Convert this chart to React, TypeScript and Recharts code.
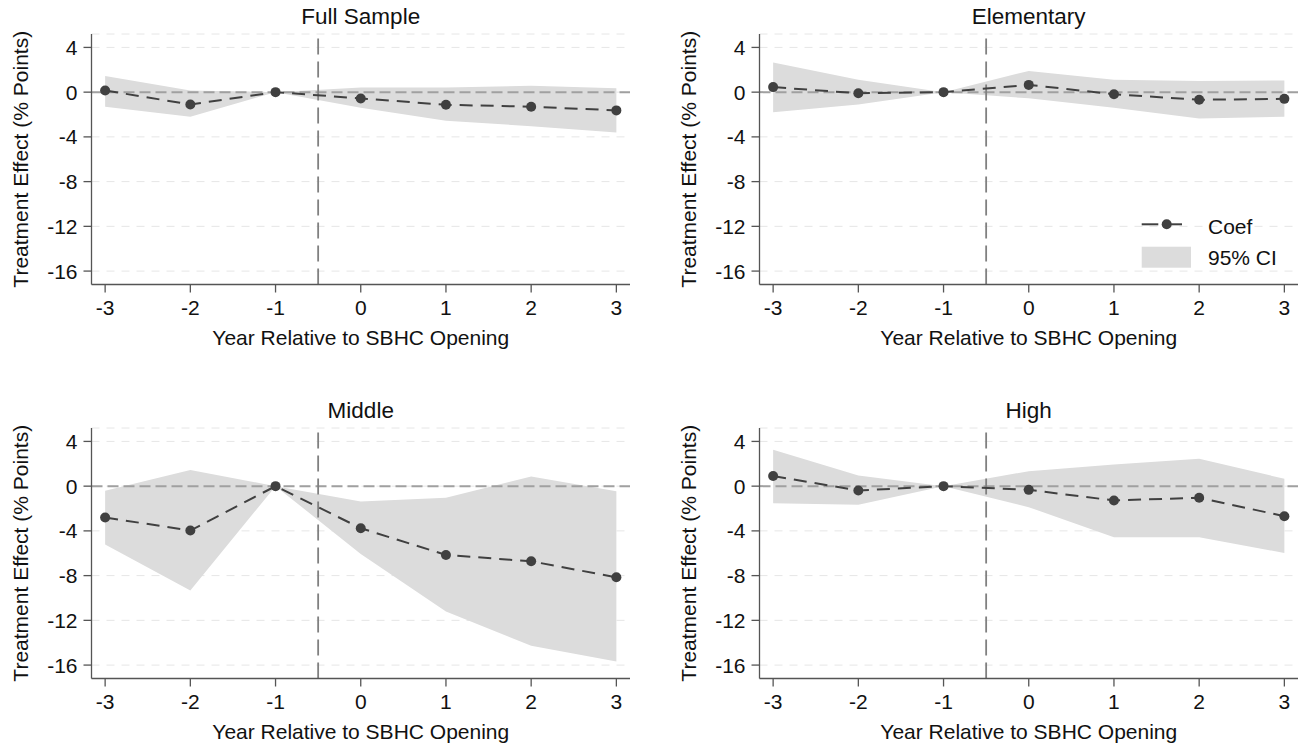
import React from "react";
import {
  ComposedChart,
  Area,
  Line,
  XAxis,
  YAxis,
  CartesianGrid,
  ReferenceLine,
  Legend,
} from "recharts";

const years = [-3, -2, -1, 0, 1, 2, 3];
const yTicks = [4, 0, -4, -8, -12, -16];

const fullCoef = [0.15, -1.1, 0, -0.56, -1.13, -1.3, -1.63];
const fullLo = [-1.3, -2.2, 0, -1.4, -2.55, -3.05, -3.6];
const fullHi = [1.45, 0.15, 0, 0.42, 0.42, 0.57, 0.36];

const elemCoef = [0.45, -0.1, 0, 0.65, -0.18, -0.68, -0.6];
const elemLo = [-1.8, -1.1, 0, -0.55, -1.4, -2.35, -2.2];
const elemHi = [2.65, 1.1, 0, 1.9, 1.1, 1.0, 1.05];

const midCoef = [-2.8, -3.97, 0, -3.76, -6.15, -6.72, -8.15];
const midLo = [-5.22, -9.34, 0, -6.06, -11.2, -14.27, -15.67];
const midHi = [-0.4, 1.45, 0, -1.37, -1.04, 0.87, -0.45];

const highCoef = [0.9, -0.39, 0, -0.33, -1.28, -1.04, -2.69];
const highLo = [-1.52, -1.67, 0, -1.88, -4.57, -4.57, -5.97];
const highHi = [3.25, 0.95, 0, 1.34, 1.94, 2.45, 0.66];

const build = (coef: number[], lo: number[], hi: number[]) =>
  years.map((year, i) => ({ year, coef: coef[i], ci: [lo[i], hi[i]] }));

const panels = [
  { title: "Full Sample", data: build(fullCoef, fullLo, fullHi), left: 0, top: 0, legend: false },
  { title: "Elementary", data: build(elemCoef, elemLo, elemHi), left: 667.8, top: 0, legend: true },
  { title: "Middle", data: build(midCoef, midLo, midHi), left: 0, top: 393.5, legend: false },
  { title: "High", data: build(highCoef, highLo, highHi), left: 667.8, top: 393.5, legend: false },
];

const W = 638;
const H = 352;
const AXIS_W = 91.5;
const AXIS = "#555";
const TEXT = "#111";

function LegendBox() {
  return (
    <svg width={170} height={70}>
      <line x1={1.7} x2={18.3} y1={14.3} y2={14.3} stroke="#404040" strokeWidth={2} />
      <circle cx={26.7} cy={14.3} r={5} fill="#404040" />
      <line x1={31} x2={42} y1={14.3} y2={14.3} stroke="#404040" strokeWidth={2} />
      <rect x={1.7} y={36.7} width={49.3} height={21} fill="#dcdcdc" />
      <text x={68} y={23.5} fontSize={21} fill={TEXT}>Coef</text>
      <text x={68} y={54.5} fontSize={21} fill={TEXT}>95% CI</text>
    </svg>
  );
}

function Panel({ p }: { p: (typeof panels)[number] }) {
  return (
    <div style={{ position: "absolute", left: p.left, top: p.top, width: W, height: H }}>
      <div
        style={{
          position: "absolute",
          left: AXIS_W,
          width: W - AXIS_W - 8,
          top: 6,
          textAlign: "center",
          fontSize: 22.5,
          lineHeight: "22px",
          color: TEXT,
        }}
      >
        {p.title}
      </div>
      <ComposedChart
        width={W}
        height={H}
        data={p.data}
        margin={{ top: 34, right: 8, left: 0, bottom: 1.5 }}
      >
        <CartesianGrid vertical={false} stroke="#e6e6e6" strokeDasharray="8 7" />
        <XAxis
          dataKey="year"
          type="number"
          domain={[-3.16, 3.16]}
          allowDataOverflow
          ticks={years}
          interval={0}
          height={66}
          tickSize={8}
          tickMargin={8}
          axisLine={{ stroke: AXIS, strokeWidth: 1.3 }}
          tickLine={{ stroke: AXIS, strokeWidth: 1.3 }}
          tick={{ fontSize: 21, fill: TEXT }}
          label={{
            value: "Year Relative to SBHC Opening",
            position: "insideBottom",
            offset: 5.5,
            fontSize: 21,
            fill: TEXT,
          }}
        />
        <YAxis
          type="number"
          domain={[-17.2, 5.2]}
          allowDataOverflow
          ticks={yTicks}
          interval={0}
          width={AXIS_W}
          tickSize={8}
          tickMargin={6}
          axisLine={{ stroke: AXIS, strokeWidth: 1.3 }}
          tickLine={{ stroke: AXIS, strokeWidth: 1.3 }}
          tick={{ fontSize: 21, fill: TEXT }}
          label={{
            value: "Treatment Effect (% Points)",
            angle: -90,
            position: "insideLeft",
            offset: 21,
            fontSize: 21,
            fill: TEXT,
            style: { textAnchor: "middle" },
          }}
        />
        <Area
          dataKey="ci"
          type="linear"
          stroke="none"
          fill="#dcdcdc"
          fillOpacity={1}
          activeDot={false}
          isAnimationActive={false}
        />
        <ReferenceLine y={0} stroke="#a0a0a0" strokeWidth={2} strokeDasharray="11 5" />
        <ReferenceLine x={-0.5} stroke="#808080" strokeWidth={1.8} strokeDasharray="16 7" />
        <Line
          dataKey="coef"
          type="linear"
          stroke="#404040"
          strokeWidth={2}
          strokeDasharray="13 8"
          dot={{ r: 5, fill: "#404040", stroke: "none" }}
          activeDot={false}
          isAnimationActive={false}
        />
        {p.legend && (
          <Legend
            layout="horizontal"
            verticalAlign="middle"
            align="center"
            content={() => <LegendBox />}
            wrapperStyle={{ left: 1140 - p.left, top: 210, width: 170, height: 70 }}
          />
        )}
      </ComposedChart>
    </div>
  );
}

export default function App() {
  return (
    <div
      style={{
        position: "absolute",
        left: 0,
        top: 0,
        width: 1306,
        height: 747,
        overflow: "hidden",
        background: "#fff",
        fontFamily: '"Liberation Sans", Arial, sans-serif',
      }}
    >
      {panels.map((p) => (
        <Panel key={p.title} p={p} />
      ))}
    </div>
  );
}
